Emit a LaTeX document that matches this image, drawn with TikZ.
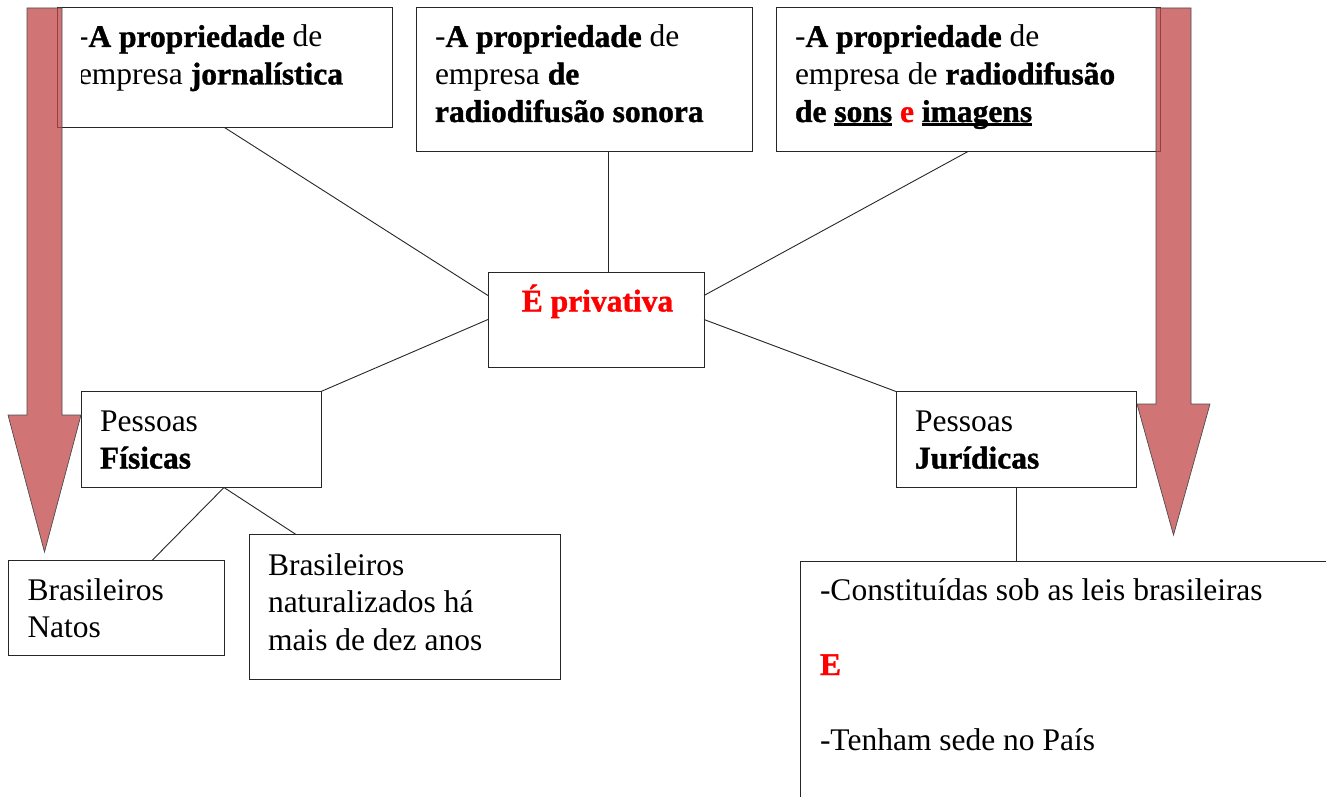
\documentclass[tikz,border=0pt]{standalone}
\usepackage{fontspec}
\setmainfont{Liberation Serif}[BoldFeatures={FakeBold=1.2}]
\newcommand{\mylines}[1]{\begin{tabular}[t]{@{}l@{}}#1\end{tabular}}
\newcommand{\myul}[1]{\setbox0\hbox{#1}\rlap{\rule[-4pt]{\wd0}{2.5pt}}\box0\relax}
\definecolor{arrowred}{RGB}{192,70,72}
\begin{document}
\begin{tikzpicture}[x=1pt,y=-1pt,
  box/.style={draw=black!85, line width=0.9pt, fill=white, inner sep=0pt, outer sep=0pt, anchor=north west},
  txt/.style={inner sep=0pt, outer sep=0pt, anchor=base west, font=\fontsize{31.5}{37.5}\selectfont},
  conn/.style={draw=black!85, line width=0.9pt},
  bigarrow/.style={fill=arrowred, fill opacity=0.75, draw=black!70, line width=0.7pt, line join=miter}]
\useasboundingbox (0,0) rectangle (1326,797);
\clip (0,0) rectangle (1326,797);

% boxes
\node[box, minimum width=335pt, minimum height=120pt] (b1) at (57,7.5) {};
\node[box, minimum width=336pt, minimum height=144pt] (b2) at (416,7.5) {};
\node[box, minimum width=384pt, minimum height=144pt] (b3) at (776,7.5) {};
\node[box, minimum width=216pt, minimum height=95pt] (c) at (488,272) {};
\node[box, minimum width=240pt, minimum height=96pt] (f) at (81,391.5) {};
\node[box, minimum width=240pt, minimum height=96pt] (j) at (896,391.5) {};
\node[box, minimum width=216pt, minimum height=95.5pt] (n) at (8.5,560) {};
\node[box, minimum width=311pt, minimum height=145pt] (z) at (249,534.5) {};
\node[box, minimum width=700pt, minimum height=400pt] (r) at (800,561) {};

% connectors
\draw[conn] (b1.south) -- ([shift={(0,-24)}]c.west);
\draw[conn] ([shift={(24,0)}]b2.south) -- ([shift={(12,0)}]c.north);
\draw[conn] (b3.south) -- ([shift={(0,-24)}]c.east);
\draw[conn] (c.west) -- (f.north east);
\draw[conn] (c.east) -- (j.north west);
\draw[conn] ([shift={(23,0)}]f.south) -- ([shift={(36,0)}]n.north);
\draw[conn] ([shift={(23,0)}]f.south) -- ([shift={(47,0)}]z.north west);
\draw[conn] (j.south) -- (j.south |- r.north);

% texts
\begin{scope}
\clip (81,0) rectangle (392,127);
\node[txt] (t1) at ([shift={(21,39.5)}]b1.north west)
  {\mylines{-\textbf{A propriedade} de\\ empresa \textbf{jornalística}}};
\end{scope}
\node[txt] (t2) at ([shift={(19,39.5)}]b2.north west)
  {\mylines{-\textbf{A propriedade} de\\ empresa \textbf{de}\\ \textbf{radiodifusão sonora}}};
\node[txt] (t3) at ([shift={(19,39.5)}]b3.north west)
  {\mylines{-\textbf{A propriedade} de\\ empresa de \textbf{radiodifusão}\\ \textbf{de \myul{sons} \textcolor{red}{e} \myul{imagens}}}};
\node[txt, anchor=base] (tc) at ([shift={(1.5,39.5)}]c.north)
  {\textbf{\textcolor{red}{É privativa}}};
\node[txt] (tf) at ([shift={(19,39.5)}]f.north west) {\mylines{Pessoas\\ \textbf{Físicas}}};
\node[txt] (tj) at ([shift={(19,39.5)}]j.north west) {\mylines{Pessoas\\ \textbf{Jurídicas}}};
\node[txt] (tn) at ([shift={(19,40)}]n.north west) {\mylines{Brasileiros\\ Natos}};
\node[txt] (tz) at ([shift={(19,40.5)}]z.north west) {\mylines{Brasileiros\\ naturalizados há\\ mais de dez anos}};
\node[txt] (tr) at ([shift={(20,39)}]r.north west)
  {\mylines{-Constituídas sob as leis brasileiras\\ \\ \textbf{\textcolor{red}{E}}\\ \\ -Tenham sede no País}};

% big arrows
\draw[bigarrow] (27,8) -- (62,8) -- (62,415) -- (81,415) -- (44.5,552) -- (8,415) -- (27,415) -- cycle;
\draw[bigarrow] (1156,8) -- (1191,8) -- (1191,404) -- (1210,404) -- (1173.5,535) -- (1137,404) -- (1156,404) -- cycle;
\end{tikzpicture}
\end{document}
